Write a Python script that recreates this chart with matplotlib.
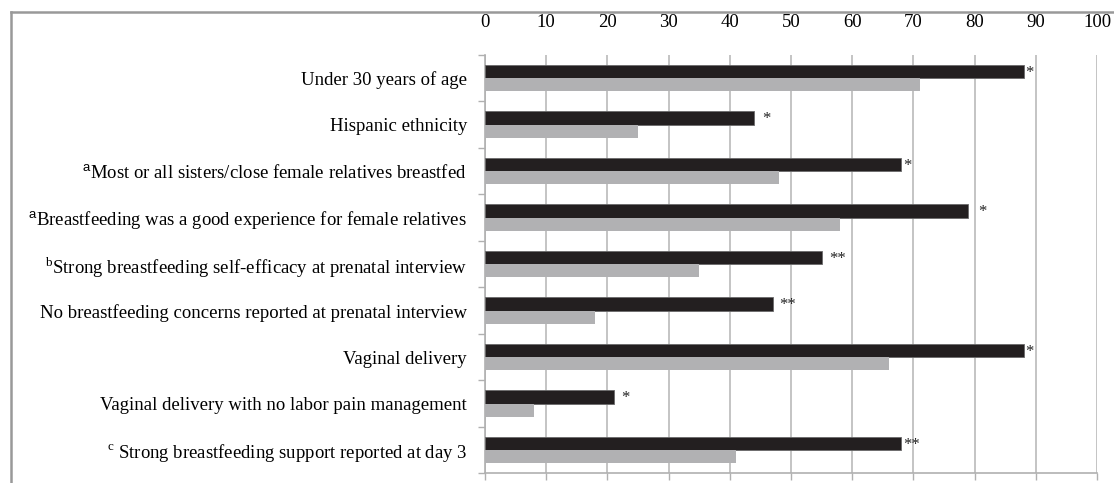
import numpy as np
import matplotlib
matplotlib.use("Agg")
import matplotlib.pyplot as plt
from matplotlib.lines import Line2D

plt.rcParams['font.family'] = ['Liberation Serif', 'DejaVu Serif']
plt.rcParams['mathtext.fontset'] = 'custom'
plt.rcParams['mathtext.rm'] = 'Liberation Serif'
plt.rcParams['mathtext.sf'] = 'Liberation Sans'

# Data
labels = [
    "Under 30 years of age",
    "Hispanic ethnicity",
    r"$^{\mathsf{a}}$Most or all sisters/close female relatives breastfed ",
    r"$^{\mathsf{a}}$Breastfeeding was a good experience for female relatives",
    r"$^{\mathrm{b}}$Strong breastfeeding self-efficacy at prenatal interview",
    "No breastfeeding concerns reported at prenatal interview",
    "Vaginal delivery",
    "Vaginal delivery with no labor pain management",
    r"$^{\mathrm{c}}$ Strong breastfeeding support reported at day 3",
]
black_vals = [88, 44, 68, 79, 55, 47, 88, 21, 68]
grey_vals = [71, 25, 48, 58, 35, 18, 66, 8, 41]
stars = ["*", "*", "*", "*", "**", "**", "*", "*", "**"]
xticks = [0, 10, 20, 30, 40, 50, 60, 70, 80, 90, 100]

# gap between bar end and star (data units)
star_gap = [0.3, 1.3, 0.3, 1.6, 1.3, 1.0, 0.3, 1.3, 0.3]

fig = plt.figure(figsize=(11.14, 4.83), dpi=100)
ax = fig.add_axes([485/1114, (483-473.3)/483, (1097-485)/1114, (473.3-55)/483])

n = len(labels)
y = np.arange(n)
h = 0.285

ax.barh(y - h/2, black_vals, height=h, color='#231f20', edgecolor='#6a6a6a',
        linewidth=0.6, zorder=3)
ax.barh(y + h/2, grey_vals, height=h, color='#b1b1b3', linewidth=0, zorder=3)

for i in range(n):
    ax.text(black_vals[i] + star_gap[i], y[i] - h/2 + 0.03, stars[i],
            ha='left', va='center', fontsize=12, color='#222222', zorder=4)

ax.set_xlim(0, 100)
ax.set_ylim(n - 0.5, -0.5)

ax.set_xticks(xticks)
ax.set_xticklabels([str(t) for t in xticks])
ax.tick_params(axis='x', bottom=True, top=False, labelbottom=False, labeltop=True,
               direction='out', length=5, width=1, color='#b0b0b0',
               labelsize=13.5, pad=12)
ax.xaxis.grid(True, color='#c4c4c4', linewidth=1.4, zorder=0)

ax.set_yticks(y)
ax.set_yticklabels(labels)
ax.set_yticks(np.arange(n + 1) - 0.5, minor=True)
ax.tick_params(axis='y', which='major', length=0, labelsize=13.5, pad=13)
ax.tick_params(axis='y', which='minor', direction='out', length=5, width=1,
               color='#b0b0b0')

for s in ['top', 'right']:
    ax.spines[s].set_visible(False)
for s in ['left', 'bottom']:
    ax.spines[s].set_color('#b0b0b0')
    ax.spines[s].set_linewidth(1.2)

# outer frame of the figure panel
fx0, fy0 = 10.5/1114, (483-11.5)/483
fig.add_artist(Line2D([fx0, 1.0], [fy0, fy0], transform=fig.transFigure,
                      color='#999999', linewidth=1.8))
fig.add_artist(Line2D([fx0, fx0], [0, fy0], transform=fig.transFigure,
                      color='#999999', linewidth=1.8))

fig.savefig("out.png", dpi=100)
